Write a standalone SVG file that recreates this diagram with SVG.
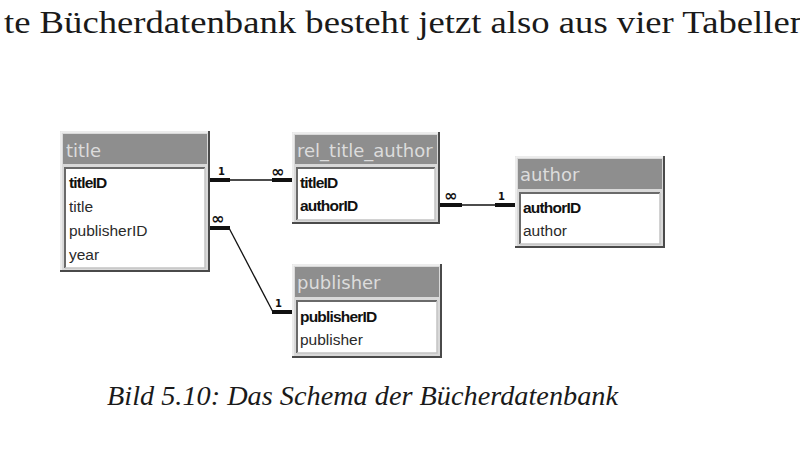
<svg xmlns="http://www.w3.org/2000/svg" width="800" height="450" viewBox="0 0 800 450">
<style>
.frame{fill:#d9d9d9}
.shadow{fill:none;stroke:#4a4a4a;stroke-width:2}
.hilite{fill:none;stroke:#f2f2f2;stroke-width:1.5}
.head{fill:#8e8e8e}
.body{fill:#ffffff}
.sunk{fill:none;stroke:#6a6a6a;stroke-width:2}
.sunk2{fill:none;stroke:#c4c4c4;stroke-width:1.5}
.htxt{font-family:"DejaVu Sans","Liberation Sans",sans-serif;font-size:18px;fill:#dcdcdc}
.f{font-family:"Liberation Sans","DejaVu Sans",sans-serif;font-size:15.5px;fill:#2a2a2a}
.k{font-weight:bold;letter-spacing:-0.8px;fill:#111}
.thin{fill:none;stroke:#111;stroke-width:1.3}
.thick{fill:none;stroke:#111;stroke-width:4}
.lbl{font-family:"DejaVu Sans",sans-serif;font-weight:bold;font-size:10px;fill:#111}
.inf{font-family:"DejaVu Sans",sans-serif;font-weight:bold;font-size:16px;fill:#111}
.serif{font-family:"Liberation Serif","DejaVu Serif",serif;fill:#1a1a1a}
</style>

<text class="serif" x="4" y="33" font-size="31" textLength="804" lengthAdjust="spacingAndGlyphs">te Bücherdatenbank besteht jetzt also aus vier Tabellen</text>

<g id="connectors">
  <!-- title - rel_title_author -->
  <line class="thick" x1="210" y1="180" x2="230" y2="180"/>
  <line class="thin" x1="230" y1="180" x2="272" y2="180"/>
  <line class="thick" x1="272" y1="180" x2="292" y2="180"/>
  <text class="lbl" x="218" y="175">1</text>
  <text class="inf" x="271" y="177">∞</text>
  <!-- title - publisher -->
  <polyline class="thick" points="210,228 230,228"/>
  <polyline class="thin" points="229,228 273,312"/>
  <polyline class="thick" points="272,312 292,312"/>
  <text class="inf" x="211" y="224">∞</text>
  <text class="lbl" x="275" y="307">1</text>
  <!-- rel_title_author - author -->
  <line class="thick" x1="440" y1="205" x2="462" y2="205"/>
  <line class="thin" x1="462" y1="205" x2="495" y2="205"/>
  <line class="thick" x1="495" y1="205" x2="515" y2="205"/>
  <text class="inf" x="444" y="201">∞</text>
  <text class="lbl" x="498" y="200">1</text>
</g>

<g id="title">
  <rect class="frame" x="60" y="131" width="150" height="141"/>
  <polyline class="hilite" points="61,271 61,132 209,132"/>
  <polyline class="shadow" points="209,131 209,271 60,271"/>
  <rect class="head" x="63" y="134" width="144" height="30"/>
  <text class="htxt" x="66" y="157">title</text>
  <rect class="body" x="64" y="167" width="141" height="101"/>
  <polyline class="sunk" points="65,268 65,168 205,168"/>
  <polyline class="sunk2" points="205,168 205,268 65,268"/>
  <text class="f k" x="69" y="188">titleID</text>
  <text class="f" x="69" y="212">title</text>
  <text class="f" x="69" y="236">publisherID</text>
  <text class="f" x="69" y="260">year</text>
</g>

<g id="rel_title_author">
  <rect class="frame" x="292" y="132" width="148" height="92"/>
  <polyline class="hilite" points="293,223 293,133 439,133"/>
  <polyline class="shadow" points="439,132 439,223 292,223"/>
  <rect class="head" x="295" y="135" width="142" height="29"/>
  <text class="htxt" x="297" y="157">rel_title_author</text>
  <rect class="body" x="296" y="167" width="139" height="53"/>
  <polyline class="sunk" points="297,220 297,168 435,168"/>
  <polyline class="sunk2" points="435,168 435,220 297,220"/>
  <text class="f k" x="300" y="188">titleID</text>
  <text class="f k" x="300" y="211">authorID</text>
</g>

<g id="author">
  <rect class="frame" x="515" y="156" width="150" height="92"/>
  <polyline class="hilite" points="516,247 516,157 664,157"/>
  <polyline class="shadow" points="664,156 664,247 515,247"/>
  <rect class="head" x="518" y="159" width="144" height="30"/>
  <text class="htxt" x="520" y="181">author</text>
  <rect class="body" x="519" y="192" width="141" height="52"/>
  <polyline class="sunk" points="520,244 520,193 660,193"/>
  <polyline class="sunk2" points="660,193 660,244 520,244"/>
  <text class="f k" x="523" y="213">authorID</text>
  <text class="f" x="523" y="236">author</text>
</g>

<g id="publisher">
  <rect class="frame" x="292" y="264" width="150" height="94"/>
  <polyline class="hilite" points="293,357 293,265 441,265"/>
  <polyline class="shadow" points="441,264 441,357 292,357"/>
  <rect class="head" x="295" y="267" width="144" height="30"/>
  <text class="htxt" x="297" y="289">publisher</text>
  <rect class="body" x="296" y="300" width="141" height="53"/>
  <polyline class="sunk" points="297,353 297,301 437,301"/>
  <polyline class="sunk2" points="437,301 437,353 297,353"/>
  <text class="f k" x="300" y="322">publisherID</text>
  <text class="f" x="300" y="345">publisher</text>
</g>

<text class="serif" x="107" y="405" font-size="27" font-style="italic" textLength="511" lengthAdjust="spacingAndGlyphs">Bild 5.10: Das Schema der Bücherdatenbank</text>
</svg>
